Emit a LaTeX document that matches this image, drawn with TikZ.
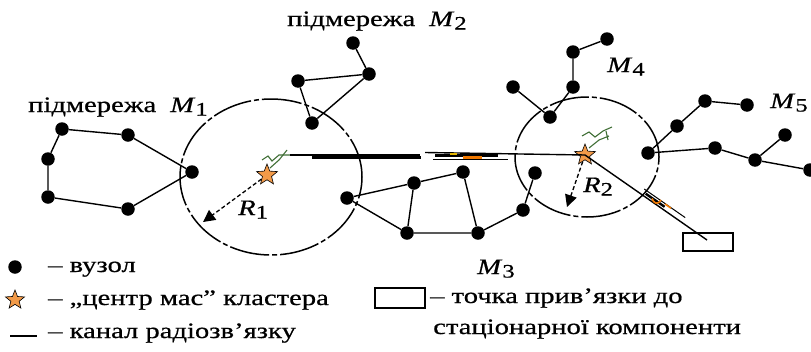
\documentclass[tikz,border=0pt]{standalone}
\usepackage{fontspec}
\setmainfont{Liberation Serif}[FakeStretch=1.3,FakeBold=0.6]
\usetikzlibrary{shapes.geometric,arrows.meta}

\definecolor{starorange}{HTML}{F29A48}
\definecolor{antgreen}{HTML}{3F6E35}
\definecolor{sigyellow}{HTML}{E2B400}
\definecolor{sigorange}{HTML}{F07800}

% italic symbol with a lowered index
\newcommand\msub[2]{\textit{#1}\raisebox{-0.35ex}{\fontsize{19}{19}\selectfont #2}}

\begin{document}
\begin{tikzpicture}[x=1pt,y=-1pt,
  vertex/.style={circle,fill=black,inner sep=0pt,minimum size=13.5pt},
  link/.style={line width=1.4pt},
  zone/.style={draw,ellipse,line width=1.5pt,dash pattern=on 40pt off 3pt on 5pt off 3pt},
  cstar/.style={star,star points=5,star point ratio=2.3,fill=starorange,draw=black,
                line width=0.6pt,inner sep=0pt,minimum size=22pt},
  radius/.style={line width=1.3pt,dash pattern=on 4pt off 2.5pt,
                 -{Triangle[length=12pt,width=12pt]}},
  antenna/.style={antgreen,line width=1.1pt},
  txt/.style={inner sep=0pt,anchor=base west,font=\fontsize{22}{24}\selectfont}]
\useasboundingbox (0,0) rectangle (811,351);

% cluster zones
\node[zone,minimum width=182pt,minimum height=156pt] (z1) at (271,177) {};
\node[zone,minimum width=144pt,minimum height=120pt] (z2) at (587,157) {};

% subnetwork M1
\node[vertex] (a1) at (62,129) {};
\node[vertex] (a2) at (128,135) {};
\node[vertex] (a3) at (48,159) {};
\node[vertex] (a4) at (48,197) {};
\node[vertex] (a5) at (128,209) {};
\node[vertex] (a6) at (192,172) {};
% subnetwork M2
\node[vertex] (b1) at (353,43) {};
\node[vertex] (b2) at (369,74) {};
\node[vertex] (b3) at (298,81) {};
\node[vertex] (b4) at (312,123) {};
% subnetwork M3
\node[vertex] (g0) at (347,198) {};
\node[vertex] (g1) at (414,183) {};
\node[vertex] (g2) at (463,172) {};
\node[vertex] (g3) at (407,233) {};
\node[vertex] (g4) at (478,233) {};
\node[vertex] (g5) at (523,210) {};
\node[vertex] (g6) at (535,173) {};
% subnetwork M4
\node[vertex] (d1) at (607,39) {};
\node[vertex] (d2) at (573,52) {};
\node[vertex] (d3) at (573,87) {};
\node[vertex] (d4) at (513,87) {};
\node[vertex] (d5) at (550,117) {};
% subnetwork M5
\node[vertex] (e1) at (648,153) {};
\node[vertex] (e2) at (677,126) {};
\node[vertex] (e3) at (705,101) {};
\node[vertex] (e4) at (747,105) {};
\node[vertex] (e5) at (715,148) {};
\node[vertex] (e6) at (755,160) {};
\node[vertex] (e7) at (785,135) {};
\node[vertex] (e8) at (810,170) {};

\draw[link] (a1) -- (a2) (a1) -- (a3) (a3) -- (a4) (a4) -- (a5)
            (a2) -- (a6) (a5) -- (a6);
\draw[link] (b1) -- (b2) (b3) -- (b2) (b3) -- (b4) (b2) -- (b4);
\draw[link] (g0) -- (g1) (g1) -- (g2) (g1) -- (g3) (g2) -- (g4)
            (g0) -- (g3) (g3) -- (g4) (g4) -- (g5) (g5) -- (g6);
\draw[link] (d1) -- (d2) (d2) -- (d3) (d3) -- (d5) (d4) -- (d5);
\draw[link] (e1) -- (e2) (e2) -- (e3) (e3) -- (e4) (e1) -- (e5)
            (e5) -- (e6) (e6) -- (e7) (e6) -- (e8);

% cluster centres, anchor point
\node[cstar] (s1) at (267,175) {};
\node[cstar] (s2) at (585,155) {};
\node[draw,line width=1.3pt,minimum width=50pt,minimum height=18pt,inner sep=0pt]
  (base) at (708,242) {};
\coordinate (ant1) at (290,155);
\coordinate (baseend) at (707,240);

% antennas
\draw[antenna] (262,160) -- (268,156) -- (272,161) -- (279,155) -- (290,155);
\draw[antenna] (270,168) -- (279,160) -- (287,150);
\draw[antenna] (582,136) -- (589,132) -- (595,137) -- (603,131) -- (612,127);
\draw[antenna] (589,148) -- (599,140) -- (609,136) (606,131) -- (608,140);

% radio channel between the centres
\draw[link] (ant1) -- (420,155);
\draw[line width=2.6pt] (312,157.5) -- (421,157.5);
\draw[link] (425,152.5) -- (s2.center);
\draw[line width=3pt] (435,155) -- (498,155);
\draw[line width=1.5pt] (433,159.5) -- (508,159.5);
\draw[sigyellow,line width=2pt] (450,154) -- (457,154);
\draw[sigorange,line width=2.5pt] (463,157.5) -- (482,157.5);

% radio channel to the anchor point
\draw[link] (s2.center) -- (baseend);
\draw[line width=2.4pt] (645.7,193.7) -- (664.6,206.8);
\draw[line width=1pt] (644.2,189.0) -- (685.2,217.6);
\draw[sigorange,line width=1.6pt] (652,198.5) .. controls (654,204) and (658,205) .. (661,200);
\draw[sigorange,line width=1.6pt] (665,204) -- (671,208.2);

% radii
\draw[radius] (s1) -- (203,222);
\draw[radius] (s2) -- (567,207);

% labels
\node[txt] (t1) at (28,112) {підмережа\hspace{14pt}\msub{M}{1}};
\node[txt] (t2) at (287,26) {підмережа\hspace{14pt}\msub{M}{2}};
\node[txt] (t3) at (477,274) {\msub{M}{3}};
\node[txt] (t4) at (607,72) {\msub{M}{4}};
\node[txt] (t5) at (770,108) {\msub{M}{5}};
\node[txt] (r1) at (238,215) {\msub{R}{1}};
\node[txt] (r2) at (583,192) {\msub{R}{2}};

% legend
\node[vertex] (lv) at (15,267) {};
\node[cstar,minimum size=20pt] (ls) at (15,300) {};
\coordinate (ll1) at (10,336);
\coordinate (ll2) at (37,336);
\draw[link] (ll1) -- (ll2);
\node[draw,line width=1.3pt,minimum width=50pt,minimum height=20pt,inner sep=0pt]
  (lb) at (400,298) {};
\node[txt] (tv) at (48,272) {– вузол};
\node[txt] (ts) at (48,305) {– „центр мас” кластера};
\node[txt] (tl) at (48,338) {– канал радіозв’язку};
\node[txt] (tb) at (430,303) {– точка прив’язки до};
\node[txt] (tb2) at (433,334) {стаціонарної компоненти};
\end{tikzpicture}
\end{document}
